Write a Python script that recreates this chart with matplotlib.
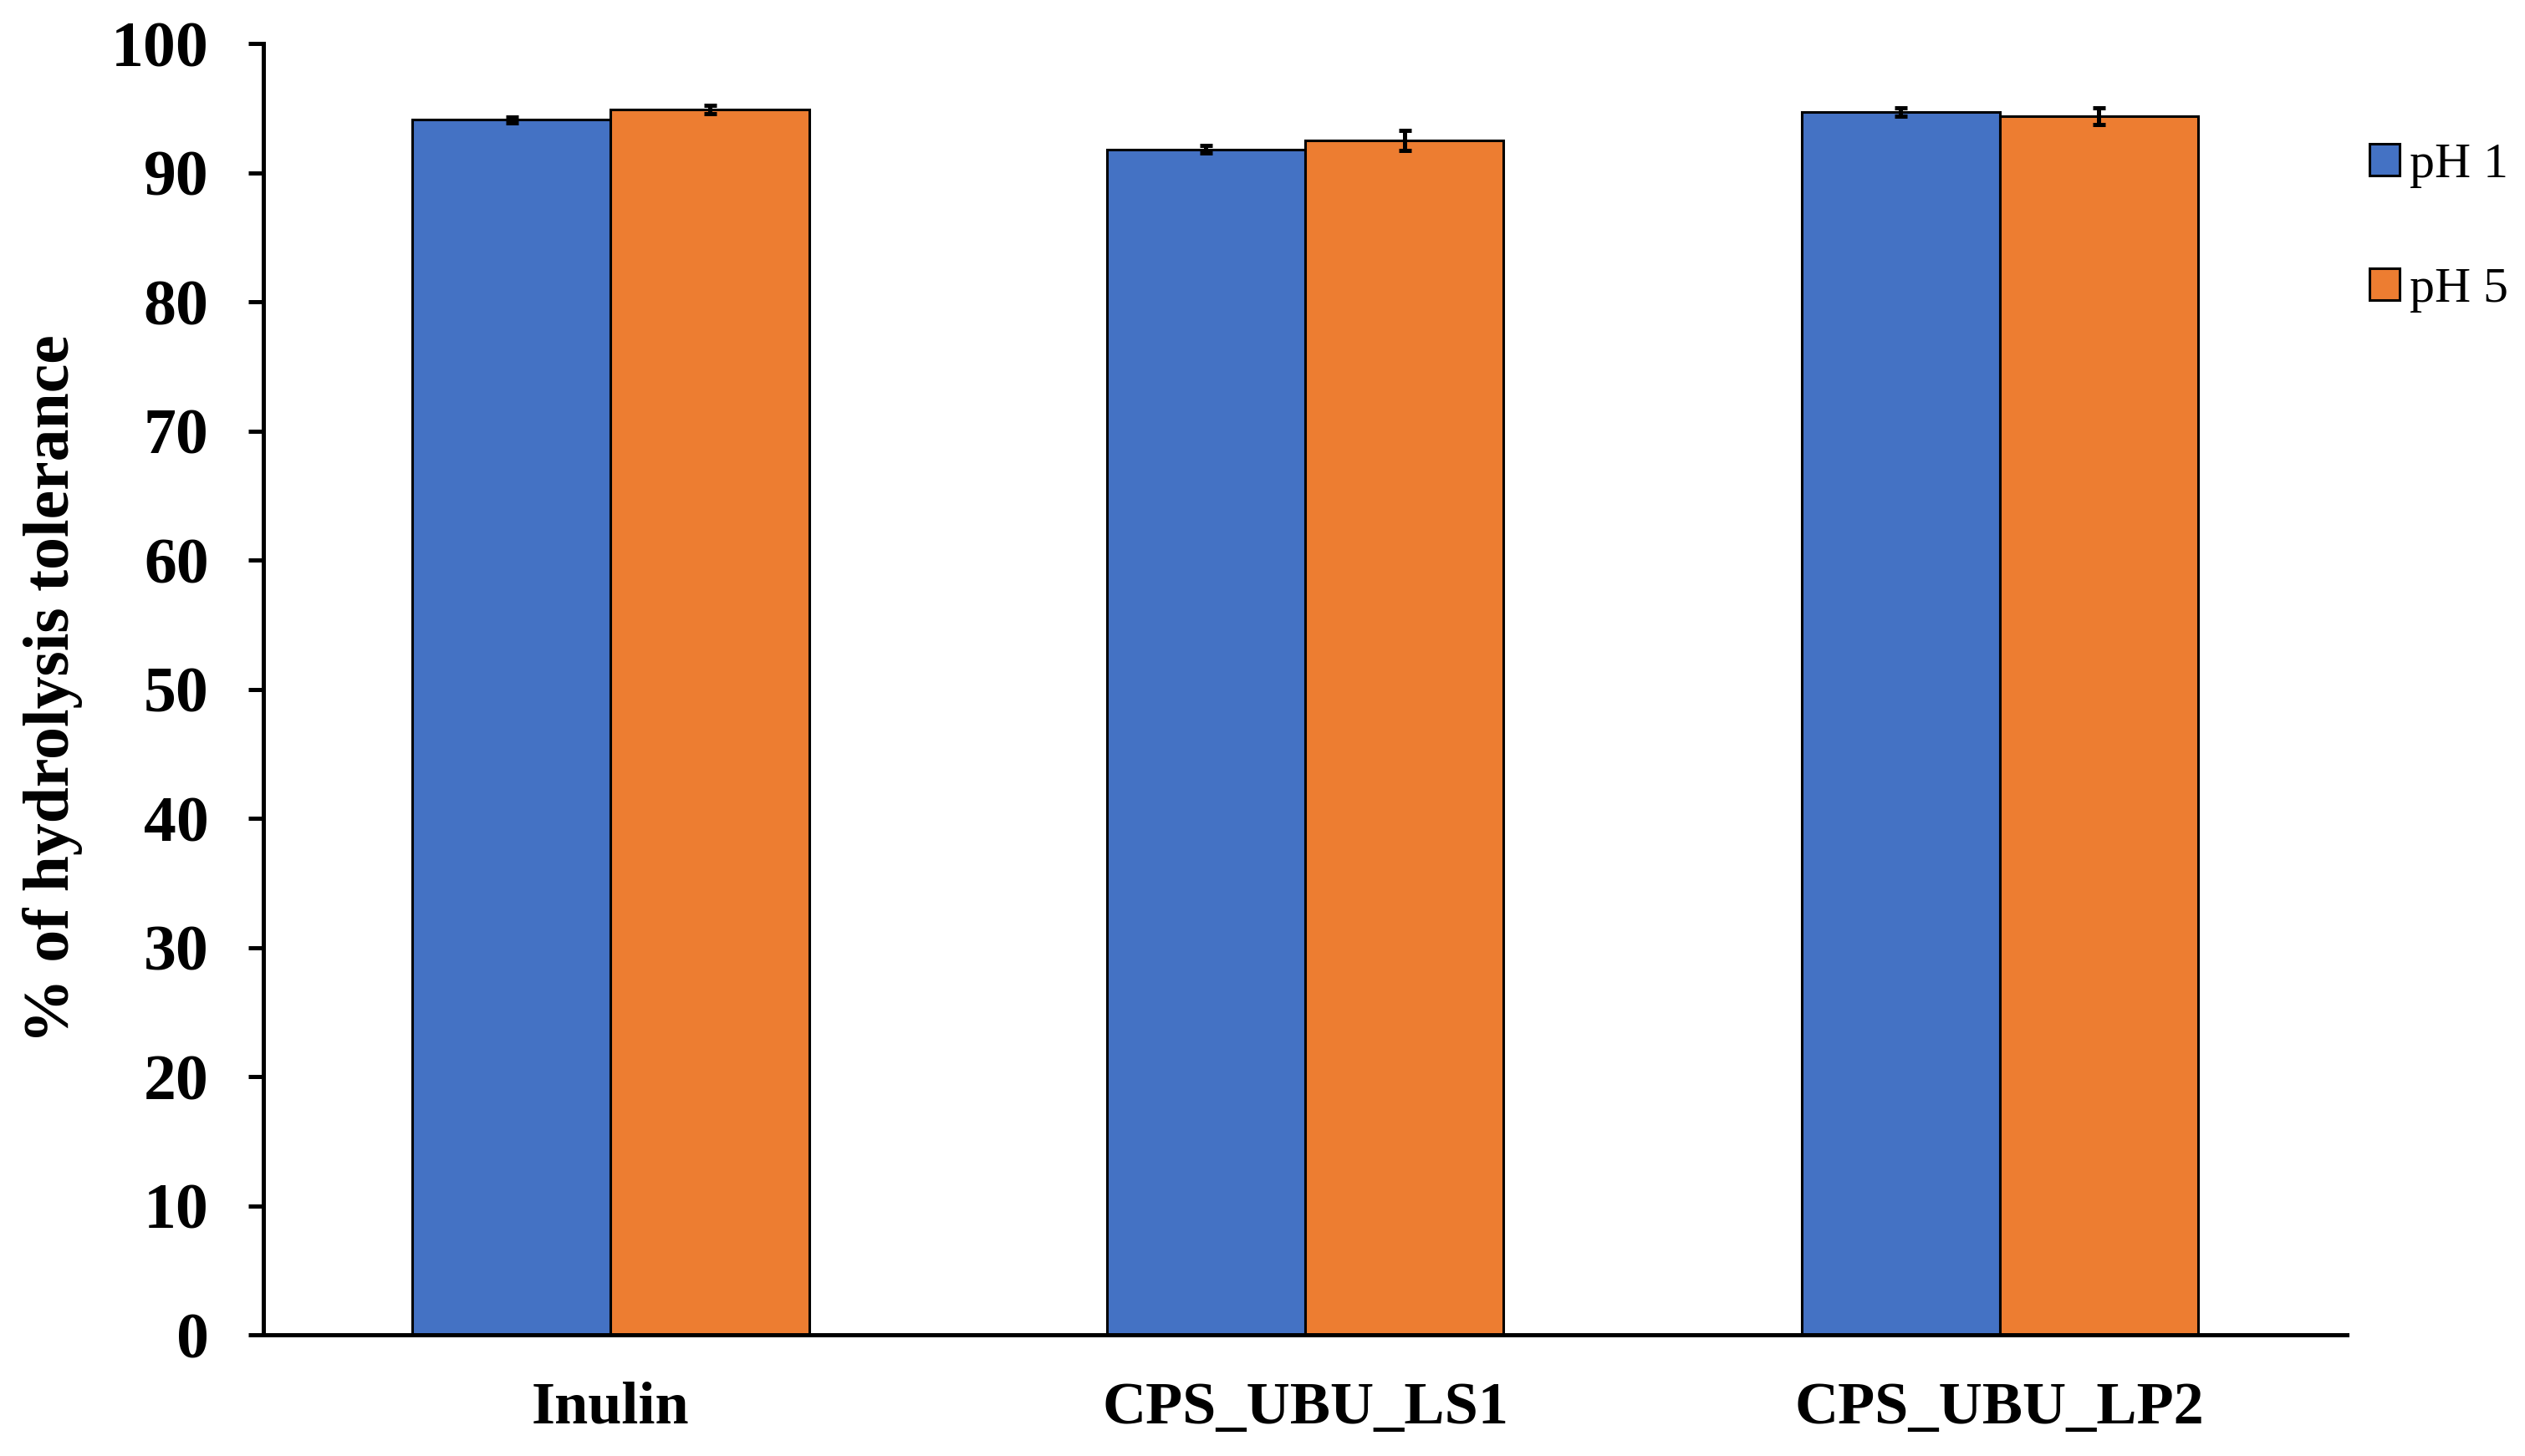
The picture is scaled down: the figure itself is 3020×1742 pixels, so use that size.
import matplotlib
matplotlib.use("Agg")
import matplotlib.pyplot as plt
import numpy as np

categories = ["Inulin", "CPS_UBU_LS1", "CPS_UBU_LP2"]
ph1_values = [94.1, 91.8, 94.7]
ph1_errors = [0.22, 0.3, 0.35]
ph5_values = [94.9, 92.5, 94.4]
ph5_errors = [0.32, 0.78, 0.65]
series_labels = ["pH 1", "pH 5"]
yticks = list(range(0, 101, 10))

plt.rcParams['font.family'] = ['Liberation Serif', 'DejaVu Serif']

fig = plt.figure(figsize=(15.1, 8.71), dpi=200)
ax = fig.add_axes([0.1043, 0.0832, 0.8252, 0.8869])

x = np.arange(len(categories))
width = 0.2855
err_kw = dict(elinewidth=1.8, capsize=2.7, capthick=1.8, ecolor='black')

ax.bar(x - width / 2, ph1_values, width, yerr=ph1_errors, color='#4472C4',
       edgecolor='black', linewidth=1.1, label=series_labels[0], error_kw=err_kw)
ax.bar(x + width / 2, ph5_values, width, yerr=ph5_errors, color='#ED7D31',
       edgecolor='black', linewidth=1.1, label=series_labels[1], error_kw=err_kw)

ax.set_xlim(-0.5, len(categories) - 0.5)
ax.set_ylim(0, 100)
ax.set_yticks(yticks)
ax.set_xticks(x)
ax.set_xticklabels(categories, fontsize=26, fontweight='bold')
for lab in ax.get_yticklabels():
    lab.set_fontsize(28)
    lab.set_fontweight('bold')

ax.tick_params(axis='y', direction='out', length=6.5, width=1.8, pad=17)
ax.tick_params(axis='x', length=0, pad=20)

ax.spines['top'].set_visible(False)
ax.spines['right'].set_visible(False)
ax.spines['left'].set_linewidth(1.8)
ax.spines['bottom'].set_linewidth(1.8)

ax.set_ylabel('% of hydrolysis tolerance', fontsize=28, fontweight='bold', labelpad=12)

fig.legend(loc='upper left', bbox_to_anchor=(0.9385, 0.902), frameon=False,
           fontsize=21.5, handlelength=0.6, handleheight=0.6, handletextpad=0.2,
           labelspacing=1.6, borderpad=0, borderaxespad=0)

fig.savefig("out.png", dpi=200)
